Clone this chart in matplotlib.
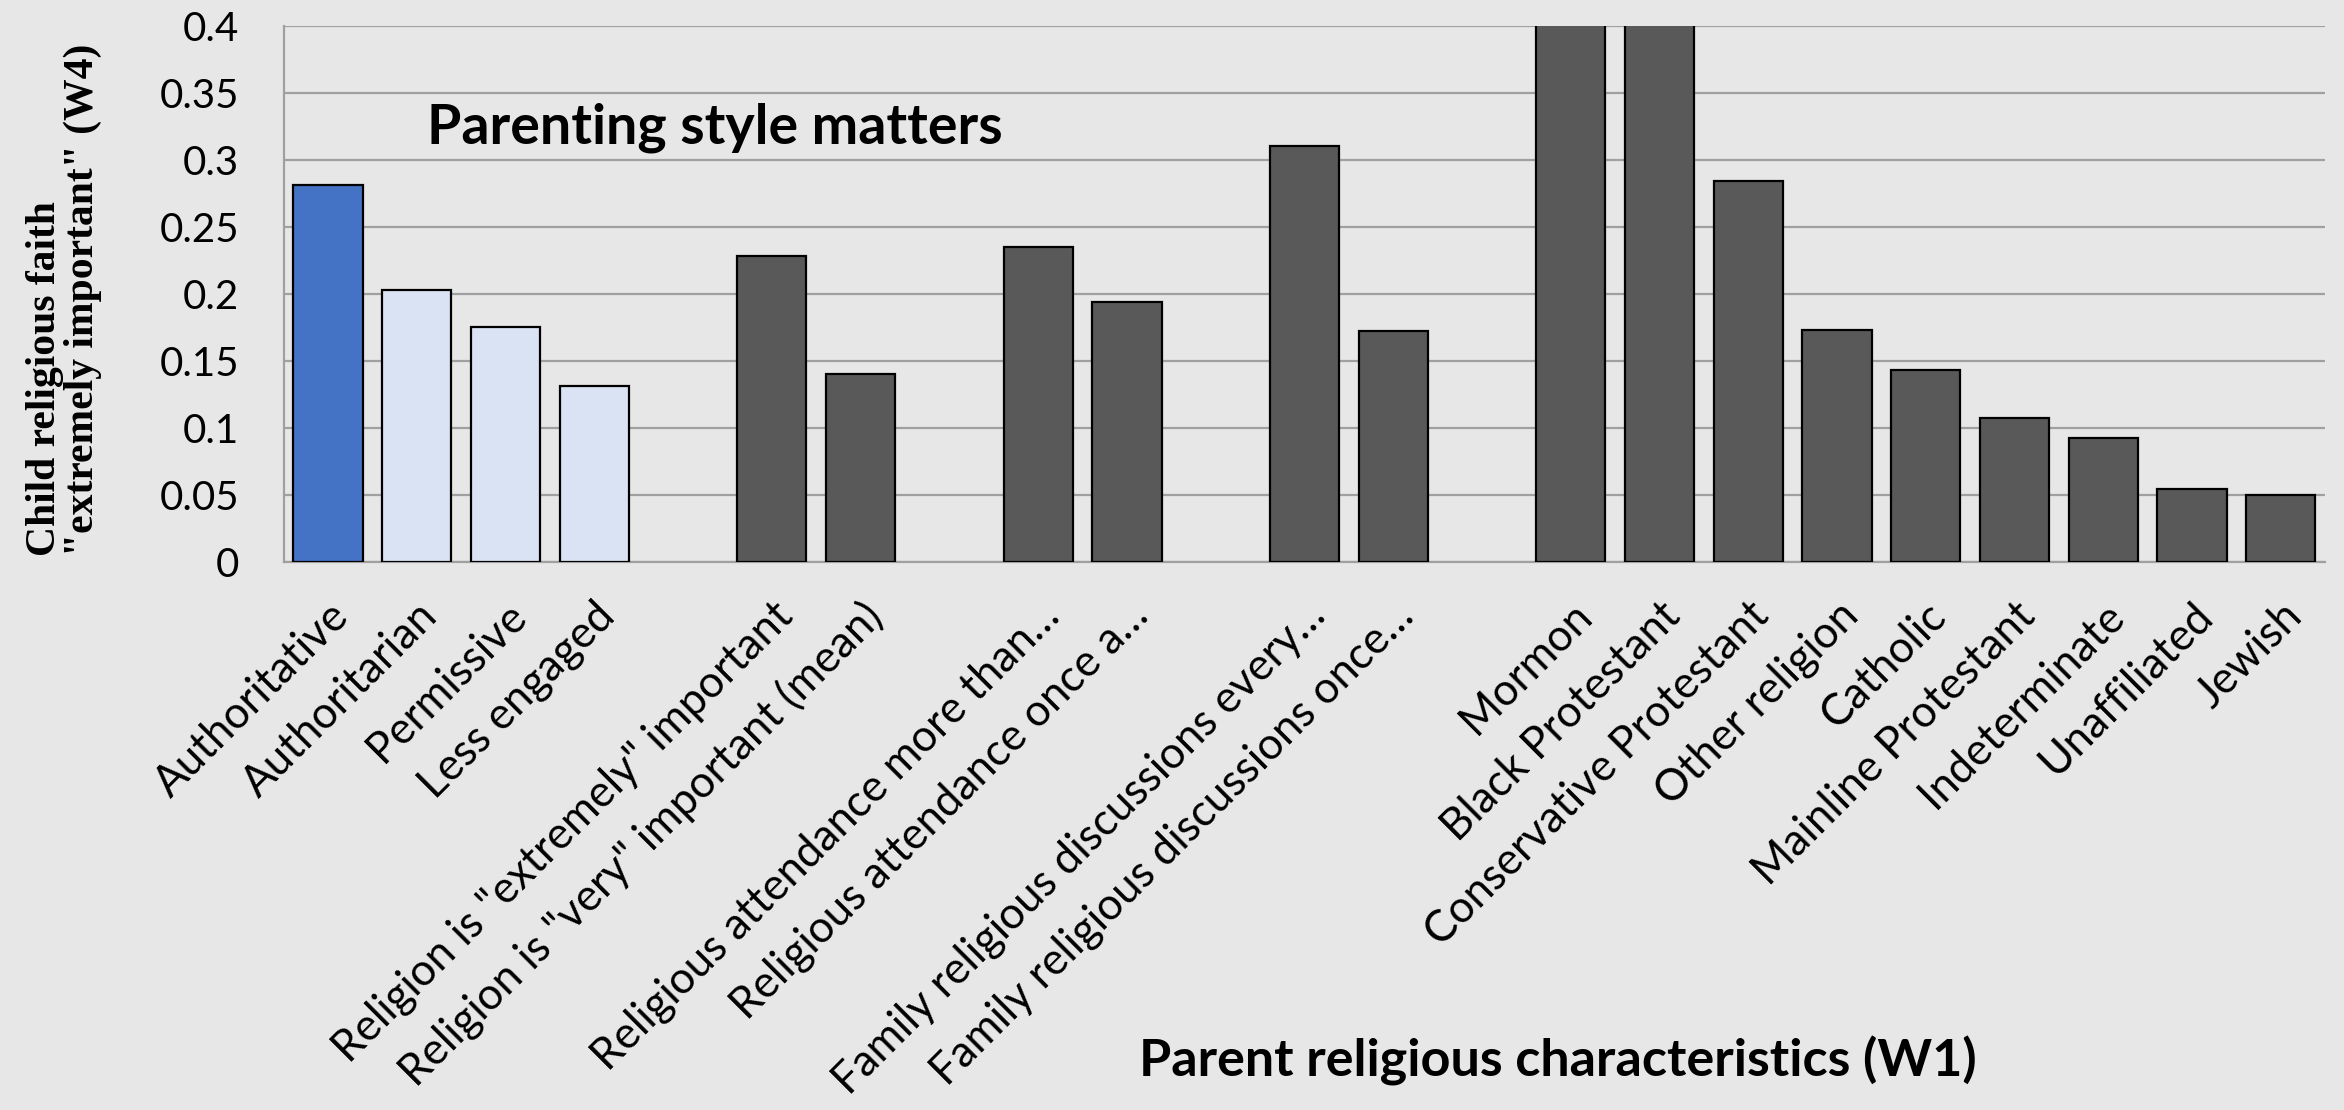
import matplotlib.pyplot as plt
import numpy as np

# bar groups, separated by one empty slot each
parenting = ["Authoritative", "Authoritarian", "Permissive", "Less engaged"]
parenting_vals = [0.281, 0.203, 0.175, 0.131]

importance = ['Religion is "extremely" important', 'Religion is "very" important (mean)']
importance_vals = [0.228, 0.140]

attendance = ["Religious attendance more than\u2026", "Religious attendance once a\u2026"]
attendance_vals = [0.235, 0.194]

discussion = ["Family religious discussions every\u2026", "Family religious discussions once\u2026"]
discussion_vals = [0.310, 0.172]

tradition = ["Mormon", "Black Protestant", "Conservative Protestant", "Other religion",
             "Catholic", "Mainline Protestant", "Indeterminate", "Unaffiliated", "Jewish"]
tradition_vals = [0.43, 0.42, 0.284, 0.173, 0.143, 0.107, 0.092, 0.054, 0.050]

bg = "#E7E7E7"
dark = "#595959"
sans = "Lato"

labels, vals, colors, pos = [], [], [], []
x = 0
groups = [(parenting, parenting_vals), (importance, importance_vals),
          (attendance, attendance_vals), (discussion, discussion_vals),
          (tradition, tradition_vals)]
for gi, (names, v) in enumerate(groups):
    for i, (n, val) in enumerate(zip(names, v)):
        labels.append(n)
        vals.append(val)
        pos.append(x)
        if gi == 0:
            colors.append("#4472C4" if i == 0 else "#DAE3F3")
        else:
            colors.append(dark)
        x += 1
    x += 1

fig = plt.figure(figsize=(23.44, 11.1), dpi=100, facecolor=bg)
ax = fig.add_axes([0.121, 0.494, 0.871, 0.483], facecolor=bg)

ax.bar(pos, vals, width=0.78, color=colors, edgecolor="black", linewidth=1.6, zorder=3)

ax.set_xlim(-0.5, x - 1.5)
ax.set_ylim(0, 0.4)
ax.set_yticks(np.arange(0, 0.401, 0.05))
ax.set_yticklabels(["0", "0.05", "0.1", "0.15", "0.2", "0.25", "0.3", "0.35", "0.4"],
                   fontsize=29, family=sans)
ax.grid(axis="y", color="#A0A0A0", linewidth=1.6, zorder=0)
ax.tick_params(axis="y", length=0, pad=32)
ax.tick_params(axis="x", length=0, pad=24)

for s in ["top", "right"]:
    ax.spines[s].set_visible(False)
ax.spines["left"].set_color("#A0A0A0")
ax.spines["bottom"].set_color("#A0A0A0")
ax.spines["left"].set_linewidth(1.6)
ax.spines["bottom"].set_linewidth(1.6)

ax.set_xticks(pos)
ax.set_xticklabels(labels, rotation=45, ha="right", va="top", rotation_mode="anchor",
                   fontsize=31.5, family=sans)

fig.text(64 / 2344, 1 - 556 / 1110, 'Child religious faith\n"extremely important" (W4)',
         rotation=90, ha="center", va="bottom", multialignment="left", fontsize=30,
         fontweight="bold", family="Liberation Serif", linespacing=1.0)

ax.text(0.07, 0.81, "Parenting style matters", transform=ax.transAxes,
        fontsize=40, fontweight="bold", family=sans, va="center")

fig.text(0.6646, 0.044, "Parent religious characteristics (W1)", fontsize=37.5,
         fontweight="bold", family=sans, ha="center", va="center")

fig.savefig("out.png", dpi=100, facecolor=bg)
